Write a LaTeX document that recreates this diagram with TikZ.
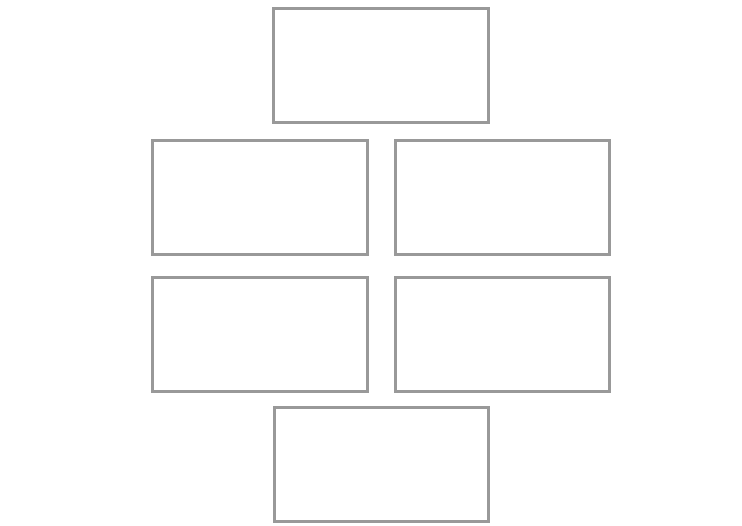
\documentclass[tikz,border=0pt]{standalone}
\usepackage{xcolor}
\usepackage{tikz}
\usetikzlibrary{positioning}

\begin{document}
\begin{tikzpicture}[
  box/.style={
    rectangle, draw=gray!80, line width=1.6pt,
    minimum width=4.29cm, minimum height=2.28cm,
    inner sep=0pt, outer sep=0pt
  }
]
\useasboundingbox (0,0) rectangle (14.84,-10.52);
\node[box] (top) at (7.62,-1.31) {};
\node[box, below=0.36cm of top, xshift=-2.42cm] (midleft) {};
\node[box, right=0.56cm of midleft] (midright) {};
\node[box, below=0.46cm of midleft] (lowleft) {};
\node[box, right=0.56cm of lowleft] (lowright) {};
\node[box, below=0.32cm of lowleft, xshift=2.43cm] (bottom) {};
\end{tikzpicture}
\end{document}
